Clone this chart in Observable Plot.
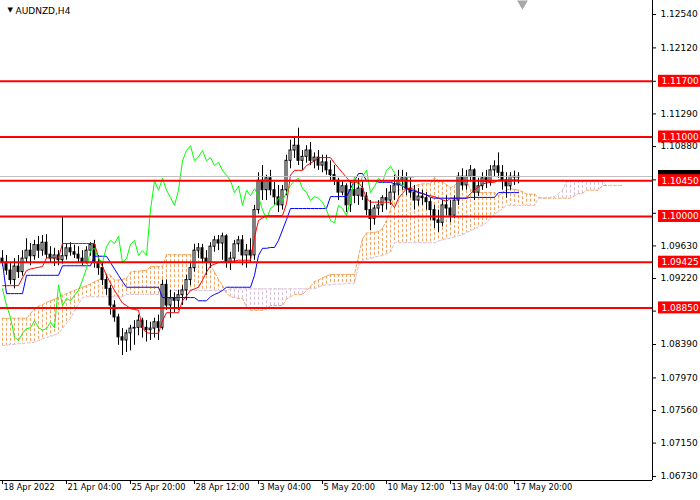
<!DOCTYPE html>
<html><head><meta charset="utf-8">
<script src="https://cdn.jsdelivr.net/npm/d3@7"></script>
<script src="https://cdn.jsdelivr.net/npm/@observablehq/plot@0.6"></script>
<style>body{margin:0;background:#fff} svg{display:block}</style>
</head><body><div id="chart"></div>
<script>
const symbolName = "AUDNZD,H4";

const open = [
1.0947,1.0942,1.0932,1.0920,1.0937,1.0930,1.0947,1.0957,1.0950,1.0964,
1.0957,1.0967,1.0952,1.0947,1.0951,1.0945,1.0950,1.0960,1.0955,1.0952,
1.0947,1.0942,1.0957,1.0964,1.0942,1.0935,1.0920,1.0909,1.0888,1.0873,
1.0848,1.0844,1.0853,1.0859,1.0860,1.0869,1.0860,1.0857,1.0859,1.0867,
1.0860,1.0914,1.0888,1.0897,1.0894,1.0901,1.0907,1.0920,1.0935,1.0957,
1.0960,1.0947,1.0942,1.0962,1.0970,1.0966,1.0975,1.0942,1.0947,1.0965,
1.0970,1.0951,1.0957,1.0951,1.1008,1.1045,1.1033,1.1048,1.1033,1.1024,
1.1014,1.1033,1.1070,1.1083,1.1089,1.1070,1.1075,1.1083,1.1070,1.1074,
1.1064,1.1068,1.1058,1.1052,1.1045,1.1030,1.1038,1.1014,1.1033,1.1026,
1.1035,1.1025,1.1008,1.0997,1.1010,1.1014,1.1023,1.1020,1.1030,1.1039,
1.1045,1.1048,1.1035,1.1030,1.1020,1.1025,1.1023,1.1018,1.1008,1.0995,
1.0992,1.1014,1.1010,1.1001,1.1020,1.1050,1.1039,1.1050,1.1058,1.1030,
1.1038,1.1048,1.1043,1.1058,1.1063,1.1055,1.1045,1.1038,1.1050,1.1049];
const high = [
1.0957,1.0951,1.0942,1.0947,1.0951,1.0957,1.0972,1.0966,1.0970,1.0975,
1.0976,1.0977,1.0962,1.0960,1.0957,1.1000,1.0966,1.0967,1.0964,1.0962,
1.0957,1.0962,1.0967,1.0970,1.0951,1.0942,1.0926,1.0913,1.0894,1.0877,
1.0859,1.0857,1.0863,1.0869,1.0876,1.0872,1.0869,1.0867,1.0872,1.0876,
1.0920,1.0920,1.0907,1.0904,1.0907,1.0913,1.0926,1.0942,1.0965,1.0966,
1.0965,1.0957,1.0967,1.0975,1.0976,1.0979,1.0977,1.0955,1.0970,1.0975,
1.0976,1.0965,1.0972,1.1014,1.1055,1.1064,1.1052,1.1058,1.1043,1.1039,
1.1039,1.1077,1.1096,1.1098,1.1111,1.1083,1.1089,1.1093,1.1080,1.1083,
1.1077,1.1077,1.1070,1.1064,1.1048,1.1045,1.1041,1.1045,1.1043,1.1048,
1.1045,1.1030,1.1020,1.1014,1.1020,1.1026,1.1035,1.1039,1.1052,1.1058,
1.1058,1.1055,1.1048,1.1039,1.1035,1.1033,1.1030,1.1023,1.1014,1.1008,
1.1020,1.1026,1.1020,1.1026,1.1055,1.1060,1.1058,1.1064,1.1060,1.1048,
1.1055,1.1058,1.1064,1.1070,1.1080,1.1064,1.1055,1.1055,1.1057,1.1055];
const low = [
1.0937,1.0926,1.0914,1.0909,1.0922,1.0925,1.0942,1.0938,1.0945,1.0947,
1.0950,1.0947,1.0942,1.0937,1.0938,1.0940,1.0945,1.0950,1.0947,1.0942,
1.0938,1.0940,1.0950,1.0935,1.0926,1.0913,1.0901,1.0876,1.0867,1.0838,
1.0825,1.0829,1.0831,1.0838,1.0850,1.0847,1.0842,1.0844,1.0847,1.0844,
1.0857,1.0882,1.0872,1.0879,1.0882,1.0888,1.0894,1.0913,1.0930,1.0947,
1.0942,1.0926,1.0935,1.0955,1.0957,1.0945,1.0935,1.0932,1.0942,1.0955,
1.0938,1.0935,1.0942,1.0945,1.1003,1.1020,1.1020,1.1026,1.1014,1.1005,
1.1008,1.1026,1.1060,1.1073,1.1064,1.1058,1.1067,1.1064,1.1060,1.1058,
1.1055,1.1052,1.1045,1.1039,1.1020,1.1026,1.1005,1.1005,1.1016,1.1014,
1.1020,1.1001,1.0982,1.0989,1.1001,1.1005,1.1008,1.1014,1.1020,1.1026,
1.1033,1.1026,1.1023,1.1008,1.1013,1.1014,1.1008,1.0995,1.0985,1.0980,
1.0987,1.1001,1.0992,1.0997,1.1014,1.1033,1.1033,1.1045,1.1020,1.1025,
1.1033,1.1035,1.1038,1.1050,1.1048,1.1033,1.1023,1.1033,1.1039,1.1041];
const close = [
1.0942,1.0932,1.0920,1.0937,1.0930,1.0947,1.0957,1.0950,1.0964,1.0957,
1.0967,1.0952,1.0947,1.0951,1.0945,1.0950,1.0960,1.0955,1.0952,1.0947,
1.0942,1.0957,1.0964,1.0942,1.0935,1.0920,1.0909,1.0888,1.0873,1.0848,
1.0844,1.0853,1.0859,1.0860,1.0869,1.0860,1.0857,1.0859,1.0867,1.0860,
1.0914,1.0888,1.0897,1.0894,1.0901,1.0907,1.0920,1.0935,1.0957,1.0960,
1.0947,1.0942,1.0962,1.0970,1.0966,1.0975,1.0942,1.0947,1.0965,1.0970,
1.0951,1.0957,1.0951,1.1008,1.1045,1.1033,1.1048,1.1033,1.1024,1.1014,
1.1033,1.1070,1.1083,1.1089,1.1070,1.1075,1.1083,1.1070,1.1074,1.1064,
1.1068,1.1058,1.1052,1.1045,1.1030,1.1038,1.1014,1.1033,1.1026,1.1035,
1.1025,1.1008,1.0997,1.1010,1.1014,1.1023,1.1020,1.1030,1.1039,1.1045,
1.1048,1.1035,1.1030,1.1020,1.1025,1.1023,1.1018,1.1008,1.0995,1.0992,
1.1014,1.1010,1.1001,1.1020,1.1050,1.1039,1.1050,1.1058,1.1030,1.1038,
1.1048,1.1043,1.1058,1.1063,1.1055,1.1045,1.1038,1.1050,1.1049,1.1050];

const tenkan = [
1.0913,1.0913,1.0913,1.0913,1.0913,1.0923,1.0932,1.0934,1.0935,1.0936,
1.0937,1.0948,1.0948,1.0948,1.0948,1.0966,1.0966,1.0966,1.0966,1.0966,
1.0966,1.0966,1.0966,1.0966,1.0948,1.0937,1.0926,1.0916,1.0907,1.0899,
1.0891,1.0888,1.0884,1.0883,1.0882,1.0860,1.0854,1.0853,1.0853,1.0853,
1.0869,1.0879,1.0879,1.0879,1.0879,1.0894,1.0900,1.0907,1.0909,1.0911,
1.0920,1.0930,1.0938,1.0940,1.0942,1.0943,1.0943,1.0944,1.0944,1.0945,
1.0945,1.0945,1.0945,1.0974,1.0995,1.0998,1.1001,1.1001,1.1001,1.1001,
1.1001,1.1016,1.1052,1.1058,1.1058,1.1058,1.1064,1.1067,1.1070,1.1074,
1.1074,1.1074,1.1074,1.1067,1.1061,1.1055,1.1049,1.1043,1.1043,1.1043,
1.1036,1.1023,1.1018,1.1018,1.1018,1.1018,1.1018,1.1018,1.1011,1.1023,
1.1029,1.1035,1.1035,1.1034,1.1030,1.1029,1.1027,1.1026,1.1025,1.1023,
1.1021,1.1019,1.1023,1.1023,1.1023,1.1023,1.1023,1.1029,1.1033,1.1037,
1.1041,1.1042,1.1043,1.1043,1.1046,1.1046,1.1046,1.1046,1.1046,1.1046];
const kijun = [
1.0942,1.0903,1.0903,1.0903,1.0903,1.0903,1.0926,1.0926,1.0926,1.0926,
1.0926,1.0926,1.0926,1.0926,1.0926,1.0938,1.0938,1.0938,1.0938,1.0938,
1.0938,1.0938,1.0938,1.0950,1.0950,1.0950,1.0950,1.0942,1.0934,1.0926,
1.0918,1.0911,1.0911,1.0911,1.0911,1.0911,1.0911,1.0911,1.0911,1.0911,
1.0898,1.0898,1.0898,1.0898,1.0898,1.0898,1.0898,1.0898,1.0898,1.0894,
1.0894,1.0894,1.0899,1.0902,1.0904,1.0907,1.0911,1.0911,1.0911,1.0911,
1.0911,1.0911,1.0911,1.0926,1.0951,1.0960,1.0960,1.0961,1.0961,1.0970,
1.0983,1.0996,1.1010,1.1010,1.1010,1.1010,1.1010,1.1010,1.1010,1.1010,
1.1010,1.1010,1.1025,1.1025,1.1025,1.1025,1.1025,1.1035,1.1045,1.1054,
1.1054,1.1045,1.1045,1.1045,1.1043,1.1043,1.1043,1.1043,1.1041,1.1041,
1.1038,1.1035,1.1033,1.1032,1.1030,1.1029,1.1027,1.1024,1.1023,1.1023,
1.1023,1.1023,1.1023,1.1023,1.1023,1.1023,1.1023,1.1024,1.1024,1.1024,
1.1024,1.1024,1.1024,1.1024,1.1030,1.1030,1.1030,1.1030,1.1030,1.1030];
const spanA = [
1.0872,1.0872,1.0872,1.0872,1.0872,1.0872,1.0872,1.0878,1.0884,1.0887,
1.0889,1.0892,1.0894,1.0896,1.0898,1.0901,1.0903,1.0905,1.0907,1.0909,
1.0911,1.0913,1.0915,1.0918,1.0920,1.0924,1.0928,1.0926,1.0920,1.0920,
1.0921,1.0922,1.0930,1.0931,1.0931,1.0932,1.0932,1.0937,1.0937,1.0937,
1.0937,1.0952,1.0952,1.0952,1.0952,1.0952,1.0952,1.0952,1.0952,1.0957,
1.0950,1.0944,1.0938,1.0930,1.0921,1.0913,1.0904,1.0899,1.0898,1.0897,
1.0897,1.0886,1.0882,1.0882,1.0882,1.0882,1.0884,1.0888,1.0888,1.0888,
1.0888,1.0896,1.0899,1.0902,1.0902,1.0902,1.0907,1.0912,1.0918,1.0920,
1.0923,1.0925,1.0927,1.0927,1.0927,1.0927,1.0927,1.0927,1.0927,1.0950,
1.0972,1.0979,1.0980,1.0980,1.0981,1.0985,1.0995,1.1008,1.1030,1.1033,
1.1034,1.1034,1.1036,1.1038,1.1040,1.1041,1.1041,1.1041,1.1049,1.1045,
1.1043,1.1040,1.1036,1.1039,1.1044,1.1048,1.1045,1.1034,1.1030,1.1030,
1.1030,1.1030,1.1030,1.1030,1.1026,1.1031,1.1033,1.1035,1.1034,1.1033,
1.1031,1.1028,1.1028,1.1028,1.1024,1.1023,1.1023,1.1023,1.1023,1.1023,
1.1023,1.1023,1.1023,1.1026,1.1029,1.1029,1.1033,1.1033,1.1033,1.1033,
1.1039,1.1039,1.1039,1.1039,1.1039,1.1039];
const spanB = [
1.0838,1.0838,1.0839,1.0839,1.0840,1.0840,1.0841,1.0841,1.0842,1.0844,
1.0846,1.0848,1.0849,1.0851,1.0853,1.0859,1.0866,1.0872,1.0881,1.0890,
1.0898,1.0899,1.0899,1.0899,1.0899,1.0899,1.0899,1.0899,1.0899,1.0899,
1.0899,1.0902,1.0902,1.0902,1.0902,1.0902,1.0902,1.0902,1.0902,1.0902,
1.0902,1.0902,1.0907,1.0907,1.0907,1.0907,1.0907,1.0907,1.0907,1.0907,
1.0907,1.0907,1.0907,1.0907,1.0907,1.0907,1.0907,1.0909,1.0909,1.0909,
1.0909,1.0909,1.0909,1.0909,1.0909,1.0909,1.0909,1.0909,1.0909,1.0909,
1.0909,1.0909,1.0909,1.0909,1.0909,1.0909,1.0909,1.0909,1.0909,1.0911,
1.0913,1.0914,1.0914,1.0915,1.0915,1.0915,1.0916,1.0916,1.0916,1.0938,
1.0945,1.0946,1.0947,1.0949,1.0950,1.0951,1.0953,1.0955,1.0967,1.0967,
1.0967,1.0967,1.0967,1.0967,1.0967,1.0967,1.0967,1.0967,1.0967,1.0969,
1.0971,1.0972,1.0973,1.0974,1.0976,1.0977,1.0980,1.0982,1.0984,1.0987,
1.0989,1.0992,1.0998,1.1003,1.1006,1.1010,1.1014,1.1014,1.1014,1.1014,
1.1014,1.1014,1.1014,1.1014,1.1023,1.1023,1.1024,1.1024,1.1025,1.1029,
1.1033,1.1044,1.1044,1.1044,1.1044,1.1044,1.1044,1.1044,1.1044,1.1044,
1.1044,1.1039,1.1039,1.1039,1.1039,1.1039];

// price-scale ticks (labels hidden behind the level boxes are not shown)
const yTicks = [1.12540,1.12120,1.11700,1.11290,1.10880,1.10460,1.10040,1.09630,1.09220,1.08810,1.08390,1.07970,1.07560,1.07150,1.06730];
const yTickLabels = ["1.12540","1.12120","","1.11290","1.10880","","","1.09630","1.09220","","1.08390","1.07970","1.07560","1.07150","1.06730"];
const timeTickBars = [0,16,32,48,64,80,96,112,128];
const timeTickLabels = ["18 Apr 2022","21 Apr 04:00","25 Apr 20:00","28 Apr 12:00","3 May 04:00","5 May 20:00","10 May 12:00","13 May 04:00","17 May 20:00"];
const levels = [1.11700,1.11000,1.10450,1.10000,1.09425,1.08850];
const levelLabels = ["1.11700","1.11000","1.10450","1.10000","1.09425","1.08850"];
const bid = 1.10503;

// ---- build tables ----
const bars = close.map((c,i)=>({i, o:open[i], h:high[i], l:low[i], c}));
const cloud = spanA.map((a,i)=>({i, a, b:spanB[i]}));
const chikou = close.slice(26).map((c,j)=>({i:j, v:c}));
const tk = tenkan.map((v,i)=>({i,v}));
const kj = kijun.map((v,i)=>({i,v}));
const yTickData = yTicks.map((v,k)=>({v, t:yTickLabels[k]})).filter(d => d.t !== "");
const timeData = timeTickBars.map((i,k)=>({i, t:timeTickLabels[k]}));
const levelData = levels.map((v,k)=>({v, t:levelLabels[k]}));

const X0 = -0.5, X1 = 162.5;
const Ybot = 1.066797, Ytop = 1.127161;
const pxY = (Ytop - Ybot) / 480;
const boxH = 6 * pxY;

const chart = Plot.plot({
  width: 700, height: 500,
  marginLeft: 0, marginRight: 48, marginTop: 0, marginBottom: 20,
  style: {background: "#fff", fontFamily: "DejaVu Sans", fontSize: "9px", overflow: "visible"},
  x: {type: "linear", domain: [X0, X1], axis: null},
  y: {domain: [Ybot, Ytop], axis: null},
  marks: [
    // Kumo hatch
    Plot.ruleX(cloud, {filter: d => d.a >= d.b, x: "i", y1: "a", y2: "b", stroke: "#F4A460", strokeDasharray: "3,2"}),
    Plot.ruleX(cloud, {filter: d => d.a < d.b, x: "i", y1: "a", y2: "b", stroke: "#D8BFD8", strokeDasharray: "3,2"}),
    Plot.line(cloud, {x: "i", y: "a", stroke: "#F4A460", strokeWidth: 1, strokeDasharray: "3,2"}),
    Plot.line(cloud, {x: "i", y: "b", stroke: "#D8BFD8", strokeWidth: 1, strokeDasharray: "3,2"}),
    // candles
    Plot.ruleX(bars, {x: "i", y1: "l", y2: "h", stroke: "#000"}),
    Plot.rect(bars, {filter: d => d.c >= d.o, x1: d => d.i - 0.25, x2: d => d.i + 0.25, y1: "o", y2: "c", fill: "#fff", stroke: "#000"}),
    Plot.rect(bars, {filter: d => d.c < d.o, x1: d => d.i - 0.25, x2: d => d.i + 0.25, y1: "o", y2: "c", fill: "#000", stroke: "#000"}),
    // Ichimoku lines
    Plot.line(tk, {x: "i", y: "v", stroke: "#ff0000", strokeWidth: 1}),
    Plot.line(kj, {x: "i", y: "v", stroke: "#0000ff", strokeWidth: 1}),
    Plot.line(chikou, {x: "i", y: "v", stroke: "#00ff00", strokeWidth: 1}),
    // bid line
    Plot.ruleY([bid], {stroke: "#c0c0c0"}),
    // horizontal levels
    Plot.ruleY(levels, {stroke: "#ff0000", strokeWidth: 2}),
    // axes
    Plot.ruleX([X1], {stroke: "#000"}),
    Plot.ruleY([Ybot], {stroke: "#000"}),
    Plot.ruleY(yTicks, {x1: () => X1, x2: () => X1 + 1, stroke: "#000"}),
    Plot.text(yTickData, {y: "v", text: "t", frameAnchor: "right", dx: 8, textAnchor: "start", fill: "#000"}),
    Plot.ruleX(timeData, {x: "i", y1: () => Ybot, y2: () => Ybot - 4 * pxY, stroke: "#000"}),
    Plot.text(timeData, {x: "i", text: "t", frameAnchor: "bottom", dy: 9, dx: 1, textAnchor: "start", fill: "#000", fontSize: 8.3}),
    // bid label (mostly covered)
    Plot.rect([bid], {x1: () => 164, x2: () => 174.5, y1: d => d - boxH, y2: d => d + boxH, fill: "#000"}),
    // level labels
    Plot.rect(levelData, {x1: () => 164, x2: () => 174.5, y1: d => d.v - boxH, y2: d => d.v + boxH, fill: "#ff0000"}),
    Plot.text(levelData, {x: () => 164, y: "v", text: "t", dx: 3, textAnchor: "start", fill: "#fff"}),
    // title
    Plot.text([symbolName], {text: d => d, frameAnchor: "top-left", dx: 15, dy: 7, textAnchor: "start", fill: "#000", fontSize: 9}),
    Plot.text(["\u25BC"], {text: d => d, frameAnchor: "top-left", dx: 7, dy: 7, fill: "#000", fontSize: 7}),
    // chart shift marker
    Plot.dot([130], {x: d => d, frameAnchor: "top", dy: 3, symbol: "triangle", rotate: 180, r: 4, fill: "#a8a8a8", stroke: "none"})
  ]
});
document.getElementById("chart").appendChild(chart);
</script>
</body></html>
